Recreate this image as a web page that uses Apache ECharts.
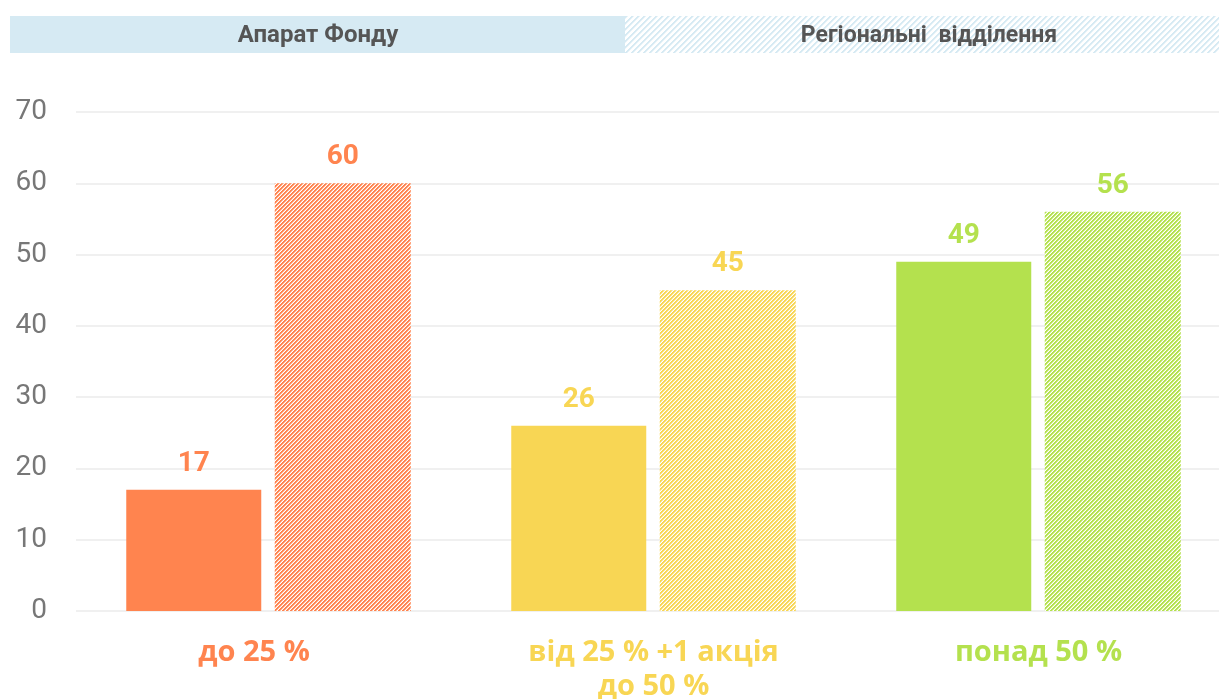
<!DOCTYPE html>
<html>
<head>
<meta charset="utf-8">
<script src="https://cdn.jsdelivr.net/npm/echarts@6/dist/echarts.min.js"></script>
<style>
  html, body { margin: 0; padding: 0; background: #fff; }
  #chart { width: 1219px; height: 699px; }
</style>
</head>
<body>
<div id="chart"></div>
<script>
// дані
const categories = ['до 25 %', 'від 25 % +1 акція\nдо 50 %', 'понад 50 %'];
const seriesNames = ['Апарат Фонду', 'Регіональні  відділення'];
const apparatValues = [17, 26, 49];
const regionalValues = [60, 45, 56];
const yTicks = [0, 10, 20, 30, 40, 50, 60, 70];

const groupColors = ['#ff844f', '#f8d654', '#b4e14e'];
const groupHalf = ['#ffc1a7', '#fbeaa9', '#d9f0a6'];

// diagonal stripe tile "/"
function stripes(color, half, size, on) {
    const c = document.createElement('canvas');
    c.width = size;
    c.height = size;
    const ctx = c.getContext('2d');
    ctx.fillStyle = '#ffffff';
    ctx.fillRect(0, 0, size, size);
    for (let y = 0; y < size; y++) {
        for (let x = 0; x < size; x++) {
            const k = (x + y) % size;
            if (k < on) {
                ctx.fillStyle = color;
                ctx.fillRect(x, y, 1, 1);
            } else if (k === on && half) {
                ctx.fillStyle = half;
                ctx.fillRect(x, y, 1, 1);
            }
        }
    }
    return { image: c, repeat: 'repeat' };
}

const chart = echarts.init(document.getElementById('chart'));

const labelStyle = (color) => ({
    show: true,
    position: 'top',
    distance: 12,
    color: color,
    fontFamily: 'Roboto',
    fontWeight: 'bold',
    fontSize: 28
});

const catRich = {};
groupColors.forEach((c, i) => {
    catRich['c' + i] = {
        color: c,
        fontFamily: 'Open Sans',
        fontWeight: 'bold',
        fontSize: 29,
        lineHeight: 34,
        padding: i === 0 ? [0, 29, 0, 0] : [0, 0, 0, 0]
    };
});

chart.setOption({
    animation: false,
    grid: { left: 76, top: 112, width: 1155, height: 499, outerBoundsMode: 'none' },
    xAxis: {
        type: 'category',
        data: categories,
        axisLine: { show: false },
        axisTick: { show: false },
        axisLabel: {
            margin: 25,
            lineHeight: 34,
            formatter: (value, index) =>
                value.split('\n').map(s => '{c' + index + '|' + s + '}').join('\n'),
            rich: catRich
        }
    },
    yAxis: {
        type: 'value',
        min: yTicks[0],
        max: yTicks[yTicks.length - 1],
        interval: 10,
        axisLabel: {
            margin: 29,
            color: '#777777',
            fontFamily: 'Roboto',
            fontSize: 28
        },
        splitLine: { lineStyle: { color: '#f0f0f0', width: 2 } }
    },
    series: [
        {
            name: seriesNames[0],
            type: 'bar',
            barWidth: 135,
            barGap: '10%',
            data: apparatValues.map((v, i) => ({
                value: v,
                itemStyle: { color: groupColors[i] },
                label: labelStyle(groupColors[i])
            }))
        },
        {
            name: seriesNames[1],
            type: 'bar',
            barWidth: 136,
            data: regionalValues.map((v, i) => ({
                value: v,
                itemStyle: { color: stripes(groupColors[i], groupHalf[i], 4, 2) },
                label: labelStyle(groupColors[i])
            }))
        }
    ],
    graphic: [
        { type: 'rect', left: 10, top: 16, shape: { width: 615, height: 37 }, style: { fill: '#d6eaf3' } },
        { type: 'rect', left: 625, top: 16, shape: { width: 594, height: 37 }, style: { fill: stripes('#d6eaf3', '#eaf4f9', 6, 2) } },
        {
            type: 'text', x: 318, y: 36,
            style: {
                text: seriesNames[0], fill: '#555555', font: 'bold 24px Roboto',
                align: 'center', verticalAlign: 'middle'
            }
        },
        {
            type: 'text', x: 929, y: 36,
            style: {
                text: seriesNames[1], fill: '#555555', font: 'bold 23px Roboto',
                align: 'center', verticalAlign: 'middle'
            }
        }
    ]
});
</script>
</body>
</html>
